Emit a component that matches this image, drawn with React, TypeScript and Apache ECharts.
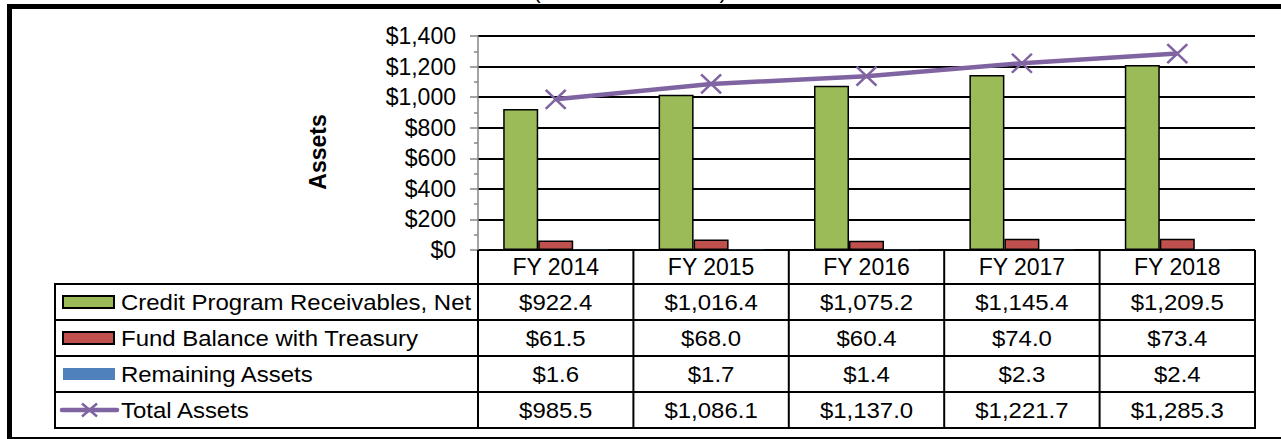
import React, { useEffect, useRef } from "react";
import * as echarts from "echarts";

const categories = ["FY 2014", "FY 2015", "FY 2016", "FY 2017", "FY 2018"];
const creditReceivables = [922.4, 1016.4, 1075.2, 1145.4, 1209.5];
const fundBalance = [61.5, 68.0, 60.4, 74.0, 73.4];
const remainingAssets = [1.6, 1.7, 1.4, 2.3, 2.4];
const totalAssets = [985.5, 1086.1, 1137.0, 1221.7, 1285.3];
const seriesNames = [
  "Credit Program Receivables, Net",
  "Fund Balance with Treasury",
  "Remaining Assets",
  "Total Assets",
];
const yTicks = { min: 0, max: 1400, interval: 200 };

const FONT = '"Liberation Sans", Arial, sans-serif';
const GREEN = "#9BBB59";
const RED = "#C0504D";
const BLUE = "#4F81BD";
const PURPLE = "#8064A2";

const fmtMoney = (v: number) =>
  "$" + v.toLocaleString("en-US", { minimumFractionDigits: 1, maximumFractionDigits: 1 });
const fmtAxis = (v: number) => "$" + v.toLocaleString("en-US");

export default function App() {
  const ref = useRef<HTMLDivElement>(null);
  useEffect(() => {
    if (!ref.current) return;
    const chart = echarts.init(ref.current, null, { renderer: "svg" });
    const xPath = "path://M0,0L20,20M20,0L0,20";
    chart.setOption({
      animation: false,
      backgroundColor: "#fff",
      grid: { left: 478, right: 26, top: 36, bottom: 189, containLabel: false },
      xAxis: {
        type: "category",
        data: categories,
        axisLine: { show: false },
        axisTick: { show: false },
        axisLabel: {
          show: true,
          fontFamily: FONT,
          fontSize: 23,
          color: "#000",
          margin: 17,
          verticalAlign: "middle",
        },
      },
      yAxis: {
        type: "value",
        min: yTicks.min,
        max: yTicks.max,
        interval: yTicks.interval,
        axisLine: { show: true, lineStyle: { color: "#868686", width: 1.5 } },
        axisTick: { show: true, length: 8, lineStyle: { color: "#868686", width: 1.5 } },
        minorTick: { show: true, splitNumber: 2, length: 4, lineStyle: { color: "#868686", width: 1.5 } },
        splitLine: { show: true, lineStyle: { color: "#000", width: 2 } },
        axisLabel: {
          fontFamily: FONT,
          fontSize: 23,
          color: "#000",
          margin: 22,
          formatter: fmtAxis,
        },
      },
      series: [
        {
          name: seriesNames[0],
          type: "bar",
          data: creditReceivables,
          barWidth: 35,
          barGap: "0%",
          itemStyle: { color: GREEN, borderColor: "#000", borderWidth: 1.5 },
        },
        {
          name: seriesNames[1],
          type: "bar",
          data: fundBalance,
          barWidth: 35,
          barGap: "0%",
          itemStyle: { color: RED, borderColor: "#000", borderWidth: 1.5 },
        },
        {
          name: seriesNames[2],
          type: "bar",
          data: remainingAssets,
          barWidth: 35,
          barGap: "0%",
          itemStyle: { color: BLUE },
        },
        {
          name: seriesNames[3],
          type: "line",
          data: totalAssets,
          z: 5,
          symbol: xPath,
          symbolSize: [20, 19],
          lineStyle: { color: PURPLE, width: 4.5 },
          itemStyle: { color: PURPLE, borderColor: PURPLE, borderWidth: 2.5 },
        },
      ],
    });

    const centers = categories.map((c) => chart.convertToPixel({ xAxisIndex: 0 }, c) as number);
    const bw = centers[1] - centers[0];
    const bounds = [centers[0] - bw / 2, ...centers.map((c) => c + bw / 2)];
    const tableLeft = 55;
    const tableRight = bounds[bounds.length - 1];
    const headerTop = 250;
    const rowLines = [284, 320, 356, 392, 428];
    const rowCenters = rowLines.slice(0, 4).map((y, i) => (y + rowLines[i + 1]) / 2);
    const rowValues = [creditReceivables, fundBalance, remainingAssets, totalAssets];
    const TFS = 22.5;
    const TSX = 1.065;

    const g: any[] = [];
    // outer frame
    g.push({
      type: "rect",
      shape: { x: 9.5, y: 6.5, width: 1290, height: 433 },
      style: { fill: "none", stroke: "#000", lineWidth: 5 },
      z: 100,
    });
    // title, clipped by the top edge as in the source
    g.push({
      type: "text",
      x: 630,
      y: -10,
      style: {
        text: "(Dollars in Millions)",
        fontFamily: FONT,
        fontSize: 23,
        fill: "#000",
        align: "center",
        verticalAlign: "middle",
      },
    });
    // axis name
    g.push({
      type: "text",
      x: 318,
      y: 152,
      rotation: Math.PI / 2,
      style: {
        text: "Assets",
        fontFamily: FONT,
        fontSize: 23,
        fontWeight: "bold",
        fill: "#000",
        align: "center",
        verticalAlign: "middle",
      },
    });
    // horizontal table lines
    rowLines.forEach((y) => {
      g.push({
        type: "line",
        shape: { x1: tableLeft, y1: y, x2: tableRight + 1, y2: y },
        style: { stroke: "#000", lineWidth: 2 },
        z: 50,
      });
    });
    // vertical table lines
    bounds.forEach((x) => {
      g.push({
        type: "line",
        shape: { x1: x, y1: headerTop, x2: x, y2: rowLines[rowLines.length - 1] + 1 },
        style: { stroke: "#000", lineWidth: 2 },
        z: 50,
      });
    });
    g.push({
      type: "line",
      shape: { x1: tableLeft, y1: rowLines[0] - 1, x2: tableLeft, y2: rowLines[rowLines.length - 1] + 1 },
      style: { stroke: "#000", lineWidth: 2 },
      z: 50,
    });
    // row labels and keys
    const keyX = 63;
    const keyW = 51;
    rowCenters.forEach((cy, i) => {
      if (i === 0 || i === 1) {
        g.push({
          type: "rect",
          shape: { x: keyX, y: cy - 6, width: keyW, height: 12 },
          style: { fill: i === 0 ? GREEN : RED, stroke: "#000", lineWidth: 2 },
        });
      } else if (i === 2) {
        g.push({
          type: "rect",
          shape: { x: keyX, y: cy - 6, width: keyW + 1, height: 12 },
          style: { fill: BLUE },
        });
      } else {
        g.push({
          type: "line",
          shape: { x1: 62, y1: cy, x2: 117, y2: cy },
          style: { stroke: PURPLE, lineWidth: 4.5, lineCap: "round" },
        });
        g.push({
          type: "line",
          shape: { x1: 82, y1: cy - 6.5, x2: 97, y2: cy + 6.5 },
          style: { stroke: PURPLE, lineWidth: 2.5 },
        });
        g.push({
          type: "line",
          shape: { x1: 97, y1: cy - 6.5, x2: 82, y2: cy + 6.5 },
          style: { stroke: PURPLE, lineWidth: 2.5 },
        });
      }
      g.push({
        type: "text",
        x: 121,
        y: cy,
        scaleX: TSX,
        style: {
          text: seriesNames[i],
          fontFamily: FONT,
          fontSize: TFS,
          fill: "#000",
          align: "left",
          verticalAlign: "middle",
        },
      });
      rowValues[i].forEach((v, j) => {
        g.push({
          type: "text",
          x: centers[j],
          y: cy,
          scaleX: TSX,
          style: {
            text: fmtMoney(v),
            fontFamily: FONT,
            fontSize: TFS,
            fill: "#000",
            align: "center",
            verticalAlign: "middle",
          },
        });
      });
    });
    chart.setOption({ graphic: g });
    return () => chart.dispose();
  }, []);
  return (
    <div
      ref={ref}
      style={{ position: "fixed", left: 0, top: 0, width: 1281, height: 439, background: "#fff" }}
    />
  );
}
